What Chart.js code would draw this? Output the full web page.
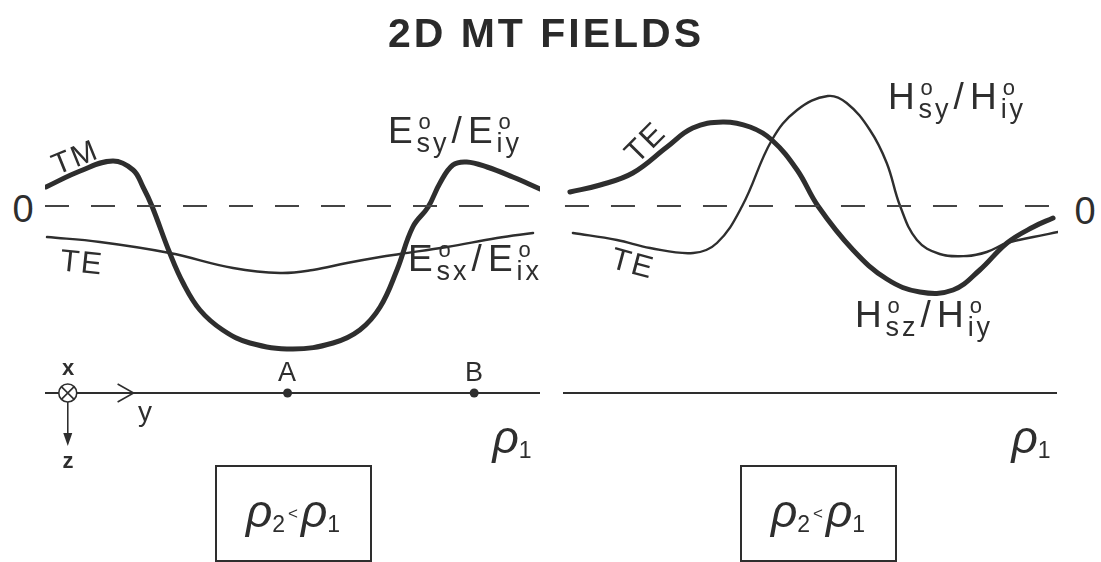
<!DOCTYPE html>
<html>
<head>
<meta charset="utf-8">
<title>2D MT FIELDS</title>
<script src="https://cdn.jsdelivr.net/npm/chart.js@4.4.1/dist/chart.umd.min.js"></script>
<style>
  body { margin: 0; width: 1101px; height: 562px; background: #fff; position: relative; overflow: hidden;
         font-family: "Liberation Sans", Arial, sans-serif; color: #2e2e2e; }
  .panel { position: absolute; top: 46px; width: 515px; height: 420px; }
  #left { left: 35px; }
  #right { left: 553px; }
  .lbl { position: absolute; white-space: nowrap; line-height: 1; transform: translate(-50%, -50%); }
  .title { font-weight: bold; font-size: 41px; letter-spacing: 3px; color: #2a2a2a; }
  .q { font-size: 37px; letter-spacing: 4px; }
  .q b { font-weight: normal; margin: 0 2px; }
  .st { position: relative; display: inline-block; font-size: 27px; vertical-align: -9px; letter-spacing: 3px; }
  .st i { font-style: normal; position: absolute; left: 2px; top: -19px; font-size: 22px; }
  .box { position: absolute; top: 465px; width: 153px; height: 93px; border: 2px solid #2e2e2e; }
  .rho { font-size: 46px; font-style: italic; }
  .rho sub { font-size: 23px; font-style: normal; vertical-align: -5px; }
  .rho small { font-size: 17px; font-style: normal; margin: 0 3px; vertical-align: 8px; }
</style>
</head>
<body>
<div class="panel" id="left"><canvas id="leftChart" width="515" height="420"></canvas></div>
<div class="panel" id="right"><canvas id="rightChart" width="515" height="420"></canvas></div>

<div class="lbl title" style="left:546px; top:33px;">2D MT FIELDS</div>

<div class="lbl" style="left:23px; top:209px; font-size:38px;">0</div>
<div class="lbl" style="left:1085px; top:211px; font-size:38px;">0</div>

<div class="lbl" style="left:75px; top:157px; font-size:30px; letter-spacing:2px; transform:translate(-50%,-50%) rotate(-22deg);">TM</div>
<div class="lbl" style="left:82px; top:262px; font-size:31px; letter-spacing:2px; transform:translate(-50%,-50%) rotate(6deg);">TE</div>
<div class="lbl q" style="left:455px; top:134px;">E<span class="st"><i>o</i>sy</span><b>/</b>E<span class="st"><i>o</i>iy</span></div>
<div class="lbl q" style="left:475px; top:262px;">E<span class="st"><i>o</i>sx</span><b>/</b>E<span class="st"><i>o</i>ix</span></div>

<div class="lbl" style="left:645px; top:142px; font-size:31px; letter-spacing:2px; transform:translate(-50%,-50%) rotate(-45deg);">TE</div>
<div class="lbl" style="left:633px; top:263px; font-size:31px; letter-spacing:2px; transform:translate(-50%,-50%) rotate(15deg);">TE</div>
<div class="lbl q" style="left:957px; top:100px;">H<span class="st"><i>o</i>sy</span><b>/</b>H<span class="st"><i>o</i>iy</span></div>
<div class="lbl q" style="left:924px; top:318px;">H<span class="st"><i>o</i>sz</span><b>/</b>H<span class="st"><i>o</i>iy</span></div>

<div class="lbl" style="left:287px; top:372px; font-size:27px;">A</div>
<div class="lbl" style="left:474px; top:372px; font-size:27px;">B</div>
<div class="lbl" style="left:68px; top:368px; font-size:22px; font-weight:bold;">x</div>
<div class="lbl" style="left:68px; top:461px; font-size:22px; font-weight:bold;">z</div>
<div class="lbl" style="left:145px; top:412px; font-size:28px;">y</div>

<div class="lbl rho" style="left:512px; top:438px;">ρ<sub>1</sub></div>
<div class="lbl rho" style="left:1031px; top:438px;">ρ<sub>1</sub></div>

<div class="box" style="left:215px;"></div>
<div class="lbl rho" style="left:293px; top:512px;">ρ<sub>2</sub><small>&lt;</small>ρ<sub>1</sub></div>
<div class="box" style="left:740px;"></div>
<div class="lbl rho" style="left:818px; top:512px;">ρ<sub>2</sub><small>&lt;</small>ρ<sub>1</sub></div>

<script>
// profile coordinate (A = 0) and normalised field ratios

// left: electric fields
const tmX = [-4.88, -4.19, -3.53, -3.12, -2.92, -2.74, -2.38, -2.11, -1.77, -1.31, -0.76, 0.11,
             0.92, 1.46, 1.87, 2.21, 2.53, 2.84, 3.08, 3.34, 3.62, 4.03, 4.55, 5.10];
const tmV = [0.38, 0.70, 0.90, 0.72, 0.38, 0.00, -0.94, -1.54, -2.08, -2.48, -2.74, -2.86,
             -2.74, -2.48, -2.02, -1.28, -0.42, -0.02, 0.46, 0.82, 0.88, 0.78, 0.58, 0.34];
const teX = [-4.86, -3.79, -2.38, -1.10, -0.15, 0.51, 1.20, 1.87, 2.27, 3.22, 4.23, 4.96];
const teV = [-0.62, -0.72, -0.94, -1.24, -1.34, -1.28, -1.14, -1.02, -0.96, -0.82, -0.64, -0.54];

// right: magnetic fields
const hzX = [-4.76, -4.15, -3.49, -2.80, -2.28, -1.67, -1.12, -0.68, -0.17, 0.25, 0.96,
             1.64, 2.31, 2.98, 3.52, 4.07, 4.60, 5.00];
const hzV = [0.28, 0.42, 0.66, 1.18, 1.56, 1.68, 1.58, 1.32, 0.72, 0.00, -0.88,
             -1.46, -1.72, -1.68, -1.28, -0.74, -0.42, -0.24];
const hyX = [-4.70, -3.81, -3.14, -2.27, -1.79, -1.28, -0.68, -0.17, 0.45, 0.83, 1.30, 1.64,
             1.91, 2.25, 2.71, 3.26, 3.66, 4.07, 4.60, 5.10];
const hyV = [-0.54, -0.68, -0.84, -0.94, -0.74, 0.00, 1.32, 1.92, 2.20, 2.06, 1.52, 0.86,
             0.00, -0.68, -0.96, -1.00, -0.92, -0.74, -0.62, -0.52];

// ground surface and the two sites on it
const surfaceLevel = -3.74;
const siteX = [0, 3.77];
const leftSpan = [-4.9, 5.1];
const rightZeroSpan = [-4.86, 4.99];
const rightSurfaceSpan = [-4.9, 5.08];

// coordinate frame marker (x out of page, y along profile, z down)
const frameX = -4.44;
const yArrowX = -3.11;

const ink = '#2e2e2e';

function curve(xs, vs, width) {
    return {
        data: xs.map((x, i) => ({ x: x, y: vs[i] })),
        borderColor: ink,
        borderWidth: width,
        pointRadius: 0,
        tension: 0.4,
        borderCapStyle: 'round',
        fill: false
    };
}

function zeroLine(span) {
    return {
        data: [{ x: span[0], y: 0 }, { x: span[1], y: 0 }],
        borderColor: '#444',
        borderWidth: 1.8,
        borderDash: [24, 22],
        pointRadius: 0
    };
}

function surface(span) {
    return {
        data: [{ x: span[0], y: surfaceLevel }, { x: span[1], y: surfaceLevel }],
        borderColor: ink,
        borderWidth: 2,
        pointRadius: 0
    };
}

const frameMarker = {
    id: 'frameMarker',
    afterDatasetsDraw(chart) {
        const { ctx, scales: { x, y } } = chart;
        const cx = x.getPixelForValue(frameX);
        const cy = y.getPixelForValue(surfaceLevel);
        const ax = x.getPixelForValue(yArrowX);
        ctx.save();
        ctx.strokeStyle = ink;
        ctx.lineWidth = 1.6;
        // circle with a cross
        ctx.fillStyle = '#fff';
        ctx.beginPath();
        ctx.arc(cx, cy, 9, 0, Math.PI * 2);
        ctx.fill();
        ctx.stroke();
        const d = 9 * Math.SQRT1_2;
        ctx.beginPath();
        ctx.moveTo(cx - d, cy - d); ctx.lineTo(cx + d, cy + d);
        ctx.moveTo(cx + d, cy - d); ctx.lineTo(cx - d, cy + d);
        ctx.stroke();
        // y arrow head on the surface line
        ctx.beginPath();
        ctx.moveTo(ax - 16, cy - 9); ctx.lineTo(ax, cy); ctx.lineTo(ax - 16, cy + 9);
        ctx.stroke();
        // z arrow pointing down
        ctx.beginPath();
        ctx.moveTo(cx, cy + 9); ctx.lineTo(cx, cy + 46);
        ctx.stroke();
        ctx.fillStyle = ink;
        ctx.beginPath();
        ctx.moveTo(cx - 4.5, cy + 40); ctx.lineTo(cx, cy + 53); ctx.lineTo(cx + 4.5, cy + 40);
        ctx.closePath();
        ctx.fill();
        ctx.restore();
    }
};

function options() {
    return {
        responsive: false,
        animation: false,
        layout: { padding: { left: 10, right: 10, top: 10, bottom: 60 } },
        plugins: { legend: { display: false }, tooltip: { enabled: false } },
        scales: {
            x: { type: 'linear', min: leftSpan[0], max: leftSpan[1], display: false },
            y: { min: -4, max: 3, display: false }
        }
    };
}

new Chart(document.getElementById('leftChart').getContext('2d'), {
    type: 'line',
    data: {
        datasets: [
            zeroLine(leftSpan),
            surface(leftSpan),
            curve(teX, teV, 2.4),
            curve(tmX, tmV, 5),
            {
                data: siteX.map(x => ({ x: x, y: surfaceLevel })),
                showLine: false,
                pointRadius: 4.5,
                pointBackgroundColor: ink,
                pointBorderWidth: 0
            }
        ]
    },
    options: options(),
    plugins: [frameMarker]
});

new Chart(document.getElementById('rightChart').getContext('2d'), {
    type: 'line',
    data: {
        datasets: [
            zeroLine(rightZeroSpan),
            surface(rightSurfaceSpan),
            curve(hyX, hyV, 2.4),
            curve(hzX, hzV, 5)
        ]
    },
    options: options()
});
</script>
</body>
</html>
